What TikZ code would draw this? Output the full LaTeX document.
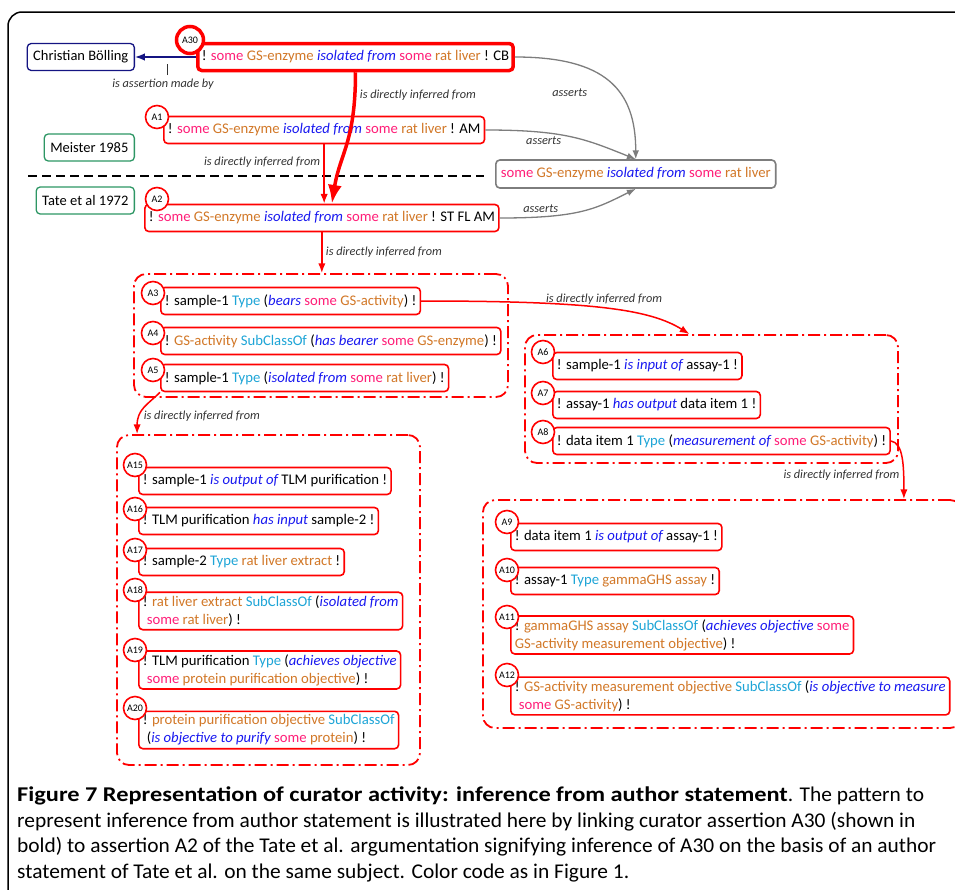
\documentclass[tikz,border=0pt]{standalone}
\usepackage{fontspec}
\setmainfont{Carlito}
\newfontfamily\capfont{Carlito}[FakeStretch=1.02]
\newfontfamily\capboldfont{Carlito}[FakeStretch=1.16]
\usepackage{tikz}
\usetikzlibrary{arrows.meta}

\definecolor{somepink}{RGB}{255,30,120}
\definecolor{clsorange}{RGB}{210,120,40}
\definecolor{relblue}{RGB}{25,25,240}
\definecolor{kwcyan}{RGB}{30,165,215}
\definecolor{navyblue}{RGB}{20,20,130}
\definecolor{boxgreen}{RGB}{45,150,100}
\definecolor{lblgray}{RGB}{50,50,50}
\definecolor{coregray}{RGB}{125,125,125}

\newcommand{\sm}[1]{\textcolor{somepink}{#1}}
\newcommand{\cl}[1]{\textcolor{clsorange}{#1}}
\newcommand{\rl}[1]{\textcolor{relblue}{\itshape #1}}
\newcommand{\kw}[1]{\textcolor{kwcyan}{#1}}

\tikzset{
  stmtbox/.style={draw=red, line width=1.6pt, rounded corners=4pt, fill=white, anchor=west,
    align=left, inner xsep=4pt, minimum height=27pt, font=\fontsize{14.7}{18}\selectfont},
  tagcirc/.style={circle, draw=red, line width=1.6pt, fill=white, inner sep=0pt,
    minimum size=23pt, font=\fontsize{10}{10}\selectfont},
  grpbox/.style={draw=red, line width=1.8pt, rounded corners=12pt,
    dash pattern=on 12pt off 4pt on 2pt off 4pt},
  srcbox/.style={draw=boxgreen, line width=1.3pt, rounded corners=4pt, anchor=east,
    minimum height=27pt, inner xsep=6pt, font=\fontsize{14.5}{16}\selectfont},
  edgelbl/.style={font=\fontsize{12.3}{14}\selectfont\itshape, text=lblgray},
  inferarrow/.style={->, draw=red, line width=1.5pt},
  assertarrow/.style={->, draw=coregray, line width=1.3pt},
}

\begin{document}
\begin{tikzpicture}[x=1pt, y=-1pt, >={Latex}]
  \useasboundingbox (0,0) rectangle (955,889);
  \draw[line width=1.5pt, rounded corners=14pt] (8,12) rectangle (975,910);

  % groups of assertions
  \node[grpbox, minimum width=374pt, minimum height=123pt] (g1) at (321,335.5) {};
  \node[grpbox, minimum width=373pt, minimum height=128pt] (g2) at (711.5,399) {};
  \node[grpbox, minimum width=479pt, minimum height=228pt] (g3) at (722.5,614) {};
  \node[grpbox, minimum width=303pt, minimum height=330pt] (g4) at (268.5,600) {};

  % sources
  \node[srcbox, draw=navyblue] (cb) at (135,57) {Christian Bölling};
  \node[srcbox] (meister) at (135,147.5) {Meister 1985};
  \node[srcbox] (tate) at (135,200.5) {Tate et al 1972};
  \draw[black, line width=1.5pt, dash pattern=on 9pt off 5pt] (28,176) -- (484,176);

  % top assertions
  \node[stmtbox, line width=3.5pt] (a30) at (196,57) {! \sm{some} \cl{GS-enzyme} \rl{isolated from} \sm{some} \cl{rat liver} ! CB};
  \node[stmtbox] (a1) at (163,130) {! \sm{some} \cl{GS-enzyme} \rl{isolated from} \sm{some} \cl{rat liver} ! AM};
  \node[stmtbox] (a2) at (144,218) {! \sm{some} \cl{GS-enzyme} \rl{isolated from} \sm{some} \cl{rat liver} ! ST FL AM};
  \node[stmtbox, draw=coregray, minimum height=28pt, inner xsep=5pt] (core) at (495,174) {\sm{some} \cl{GS-enzyme} \rl{isolated from} \sm{some} \cl{rat liver}};

  % group 1
  \node[stmtbox] (a3) at (160,301) {! sample-1 \kw{Type} (\rl{bears} \sm{some} \cl{GS-activity}) !};
  \node[stmtbox] (a4) at (160,341) {! \cl{GS-activity} \kw{SubClassOf} (\rl{has bearer} \sm{some} \cl{GS-enzyme}) !};
  \node[stmtbox] (a5) at (160,378) {! sample-1 \kw{Type} (\rl{isolated from} \sm{some} \cl{rat liver}) !};

  % group 2
  \node[stmtbox] (a6) at (552,366) {! sample-1 \rl{is input of} assay-1 !};
  \node[stmtbox] (a7) at (552,405) {! assay-1 \rl{has output} data item 1 !};
  \node[stmtbox] (a8) at (552,441) {! data item 1 \kw{Type} (\rl{measurement of} \sm{some} \cl{GS-activity}) !};

  % group 3
  \node[stmtbox] (a9) at (510,537) {! data item 1 \rl{is output of} assay-1 !};
  \node[stmtbox] (a10) at (510,581) {! assay-1 \kw{Type} \cl{gammaGHS assay} !};
  \node[stmtbox] (a11) at (510,635) {! \cl{gammaGHS assay} \kw{SubClassOf} (\rl{achieves objective} \sm{some}\\\cl{GS-activity measurement objective}) !};
  \node[stmtbox] (a12) at (510,696) {! \cl{GS-activity measurement objective} \kw{SubClassOf} (\rl{is objective to measure}\\\hspace*{4pt}\sm{some} \cl{GS-activity}) !};

  % group 4
  \node[stmtbox] (a15) at (138,481) {! sample-1 \rl{is output of} TLM purification !};
  \node[stmtbox] (a16) at (138,521) {! TLM purification \rl{has input} sample-2 !};
  \node[stmtbox] (a17) at (138,562) {! sample-2 \kw{Type} \cl{rat liver extract} !};
  \node[stmtbox] (a18) at (138,611) {! \cl{rat liver extract} \kw{SubClassOf} (\rl{isolated from}\\\hspace*{4pt}\sm{some} \cl{rat liver}) !};
  \node[stmtbox] (a19) at (138,670) {! TLM purification \kw{Type} (\rl{achieves objective}\\\hspace*{4pt}\sm{some} \cl{protein purification objective}) !};
  \node[stmtbox] (a20) at (138,730) {! \cl{protein purification objective} \kw{SubClassOf}\\\hspace*{4pt}(\rl{is objective to purify} \sm{some} \cl{protein}) !};

  % tags
  \node[tagcirc, line width=3.5pt, minimum size=27pt] (t30) at (190,40) {A30};
  \node[tagcirc] (t1) at (157,117) {A1};
  \node[tagcirc] (t2) at (157,199) {A2};
  \node[tagcirc] (t3) at (153,293) {A3};
  \node[tagcirc] (t4) at (153,333) {A4};
  \node[tagcirc] (t5) at (153,370) {A5};
  \node[tagcirc] (t6) at (543,352) {A6};
  \node[tagcirc] (t7) at (543,393) {A7};
  \node[tagcirc] (t8) at (543,432) {A8};
  \node[tagcirc] (t9) at (507,522) {A9};
  \node[tagcirc] (t10) at (507,570) {A10};
  \node[tagcirc] (t11) at (507,617) {A11};
  \node[tagcirc] (t12) at (507,675) {A12};
  \node[tagcirc] (t15) at (135,465) {A15};
  \node[tagcirc] (t16) at (135,509) {A16};
  \node[tagcirc] (t17) at (135,550) {A17};
  \node[tagcirc] (t18) at (135,590) {A18};
  \node[tagcirc] (t19) at (135,650) {A19};
  \node[tagcirc] (t20) at (135,708) {A20};

  % connectors
  \draw[->, navyblue, line width=1.5pt] (a30.west) -- (cb.east);
  \node[edgelbl] (madeby) at (163,84) {is assertion made by};
  \draw[lblgray, line width=1pt] ([xshift=4pt]madeby.north) -- ++(0,-11);
  \draw[->, red, line width=3.5pt] (a30.south) .. controls +(0,70) and +(8,-50) .. ([xshift=10pt]a2.north)
    node[pos=0.12, right, edgelbl] {is directly inferred from};
  \draw[inferarrow] (a1.south) -- (a1.south |- a2.north)
    node[pos=0.3, left, edgelbl] {is directly inferred from};
  \draw[assertarrow] (a30.east) .. controls +(90,0) and +(0,-70) .. (core.north)
    node[pos=0.6, left=28pt, edgelbl] {asserts};
  \draw[assertarrow] (a1.east) .. controls +(80,0) and +(-50,-20) .. (core.north)
    node[pos=0.3, below, edgelbl] {asserts};
  \draw[assertarrow] (a2.east) .. controls +(80,0) and +(-40,20) .. (core.south)
    node[pos=0.2, above, edgelbl] {asserts};
  \draw[inferarrow] (a2.south) -- (a2.south |- g1.north)
    node[midway, right, edgelbl] {is directly inferred from};
  \draw[inferarrow] (a3.east) .. controls +(170,0) and +(-40,-25) .. ([xshift=-22pt]g2.north)
    node[pos=0.5, above, edgelbl] {is directly inferred from};
  \draw[inferarrow] (a5.south west) .. controls +(-12,12) and +(0,-25) .. ([xshift=21pt]g4.north west)
    node[pos=0.7, right, edgelbl] {is directly inferred from};
  \draw[inferarrow] (a8.east) .. controls +(12,2) and +(0,-35) .. ([xshift=-59pt]g3.north east)
    node[pos=0.75, left, edgelbl] {is directly inferred from};

  % caption
  \node[anchor=north west, align=left, inner sep=0pt, font=\capfont\fontsize{21}{25.5}\selectfont] (caption) at (17,787)
    {{\capboldfont\bfseries Figure 7 Representation of curator activity: inference from author statement}. The pattern to\\
     represent inference from author statement is illustrated here by linking curator assertion A30 (shown in\\
     bold) to assertion A2 of the Tate et al. argumentation signifying inference of A30 on the basis of an author\\
     statement of Tate et al. on the same subject. Color code as in Figure 1.};
\end{tikzpicture}
\end{document}
